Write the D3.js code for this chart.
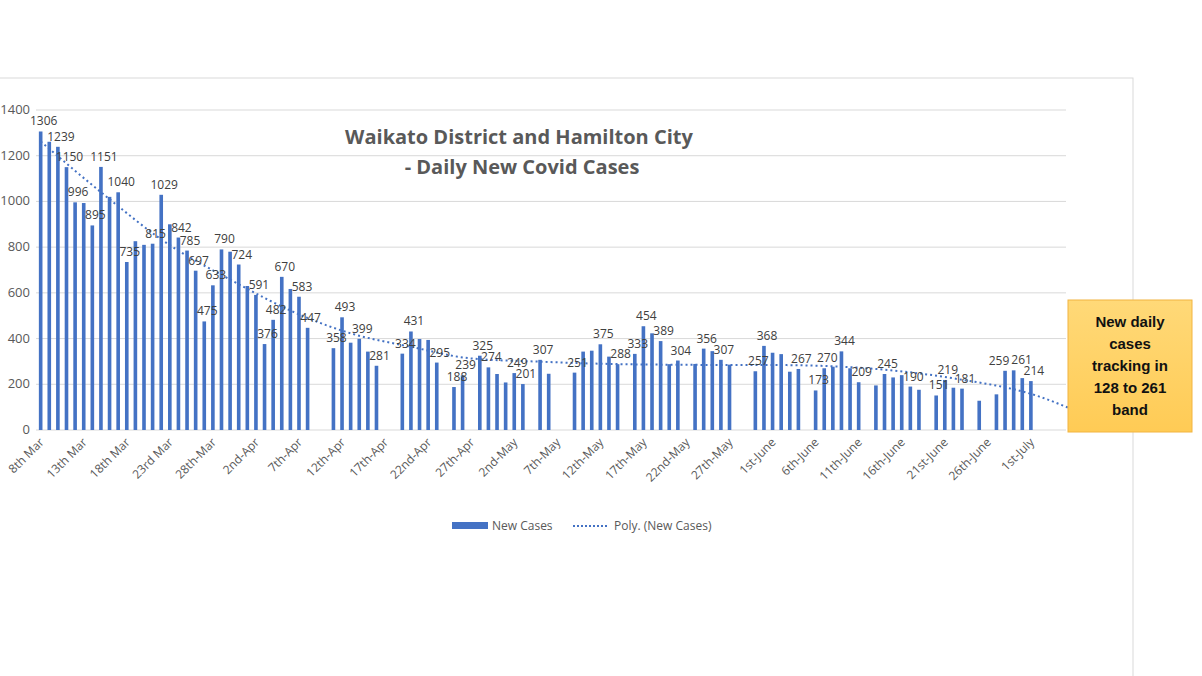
<!DOCTYPE html>
<html><head><meta charset="utf-8">
<script src="https://cdn.jsdelivr.net/npm/d3@7"></script>
<style>body{margin:0;background:#fff;font-family:"Open Sans","Liberation Sans",sans-serif}</style>
</head><body>
<svg id="chart" width="1202" height="676"></svg>
<script>
// daily new cases, one entry per day from 8 Mar (null = no report)
var cases = [
 1306,1261,1239,1150,996,993,895,1151,1020,1040,735,826,810,815,1029,900,842,785,697,475,633,790,780,724,
 630,591,376,482,670,617,583,447,null,null,358,493,382,399,343,281,null,null,334,431,398,394,295,null,188,239,null,325,274,245,
 208,249,201,null,307,246,null,null,251,343,347,375,321,288,null,333,454,423,389,288,304,null,289,356,345,307,286,null,null,257,368,
 338,332,255,267,null,173,270,277,344,270,209,null,195,245,230,240,190,176,null,151,219,185,181,null,128,null,156,259,261,227,
 214,null,null,null,null
];
// days whose value is printed on the chart
var labelled = [0,2,3,4,6,7,9,10,13,14,16,17,18,19,20,21,23,25,26,27,28,30,31,34,35,37,39,42,43,46,48,49,51,52,55,56,58,62,65,67,69,70,72,74,77,79,83,84,88,90,91,93,95,98,101,104,105,107,110,112,113,115];
var tickLabels = ["8th Mar","13th Mar","18th Mar","23rd Mar","28th-Mar","2nd-Apr","7th-Apr","12th-Apr","17th-Apr","22nd-Apr","27th-Apr","2nd-May","7th-May","12th-May","17th-May","22nd-May","27th-May","1st-June","6th-June","11th-June","16th-June","21st-June","26th-June","1st-July"];
// polynomial trendline: [day, value]
var trend = [[0,1262],[8,1010],[14,834],[22,658],[31,490],[36,423],[43,364],[50,313],[58,299],[66,289],[76,285],[86,284],[96,270],[106,226],[116,146],[119.5,95]];
var yTicks = [0,200,400,600,800,1000,1200,1400];

var svg = d3.select("#chart");
var grey = "#595959";

// outer chart frame
svg.append("rect").attr("x",-5).attr("y",78).attr("width",1138).attr("height",610)
	.attr("fill","none").attr("stroke","#d9d9d9");

var x = d3.scaleBand().domain(d3.range(cases.length)).range([38,1068]).paddingInner(0.58).paddingOuter(0.1);
var y = d3.scaleLinear().domain([0,1400]).range([430,110]);
var cx = function(i){ return x(Math.floor(i)) + x.bandwidth()/2 + (i%1)*x.step(); };

svg.append("g").selectAll("line").data(yTicks).enter().append("line")
	.attr("x1",36).attr("x2",1066).attr("y1",y).attr("y2",y)
	.attr("stroke","#d9d9d9");
svg.append("g").selectAll("text").data(yTicks).enter().append("text")
	.attr("x",30).attr("y",function(d){return y(d)+4;}).attr("text-anchor","end")
	.attr("font-size",13).attr("fill",grey).text(function(d){return d;});

var data = cases.map(function(v,i){return {i:i,v:v};}).filter(function(d){return d.v!==null;});
svg.append("g").selectAll("rect").data(data).enter().append("rect")
	.attr("x",function(d){return x(d.i);}).attr("width",x.bandwidth())
	.attr("y",function(d){return y(d.v);}).attr("height",function(d){return 430-y(d.v);})
	.attr("fill","#4472C4");

svg.append("path").datum(trend)
	.attr("d",d3.line().x(function(d){return cx(d[0]);}).y(function(d){return y(d[1]);}).curve(d3.curveMonotoneX))
	.attr("fill","none").attr("stroke","#4472C4").attr("stroke-width",2).attr("stroke-dasharray","2,3");

// nudge labels of neighbouring days apart when they sit at similar heights
var nudge = function(i,k){
	var p = labelled[k-1], n = labelled[k+1];
	if (n === i+1 && Math.abs(cases[n]-cases[i]) < 40) return -6;
	if (p === i-1 && Math.abs(cases[p]-cases[i]) < 40) return 8;
	return 3;
};
svg.append("g").selectAll("text").data(labelled).enter().append("text")
	.attr("x",function(i,k){return cx(i)+nudge(i,k);}).attr("y",function(i){return y(cases[i])-6;})
	.attr("text-anchor","middle").attr("font-size",12).attr("fill","#404040")
	.text(function(i){return cases[i];});

svg.append("g").selectAll("text").data(tickLabels).enter().append("text")
	.attr("transform",function(d,k){return "translate("+(cx(k*5)+4)+",443) rotate(-45)";})
	.attr("text-anchor","end").attr("font-size",12).attr("fill",grey).text(function(d){return d;});

svg.append("text").attr("x",519).attr("y",144).attr("text-anchor","middle")
	.attr("font-size",20).attr("font-weight","bold").attr("fill",grey).text("Waikato District and Hamilton City");
svg.append("text").attr("x",522).attr("y",174).attr("text-anchor","middle")
	.attr("font-size",20).attr("font-weight","bold").attr("fill",grey).text("- Daily New Covid Cases");

// legend
svg.append("rect").attr("x",452).attr("y",522).attr("width",36).attr("height",7).attr("fill","#4472C4");
svg.append("text").attr("x",492).attr("y",530).attr("font-size",12).attr("fill",grey).text("New Cases");
svg.append("line").attr("x1",573).attr("x2",609).attr("y1",526).attr("y2",526)
	.attr("stroke","#4472C4").attr("stroke-width",2).attr("stroke-dasharray","2,2");
svg.append("text").attr("x",614).attr("y",530).attr("font-size",12).attr("fill",grey).text("Poly. (New Cases)");

// callout
var grad = svg.append("defs").append("linearGradient").attr("id","g").attr("x1",0).attr("x2",0).attr("y1",0).attr("y2",1);
grad.append("stop").attr("offset","0").attr("stop-color","#FFD978");
grad.append("stop").attr("offset","1").attr("stop-color","#FFCB55");
svg.append("rect").attr("x",1068).attr("y",300).attr("width",124).attr("height",132)
	.attr("fill","url(#g)").attr("stroke","#F2B440");
var call = ["New daily","cases","tracking in","128 to 261","band"];
svg.append("g").selectAll("text").data(call).enter().append("text")
	.attr("x",1130).attr("y",function(d,k){return 327+k*22;}).attr("text-anchor","middle")
	.attr("font-size",15).attr("font-weight","bold").attr("fill","#111")
	.attr("font-family","Liberation Sans, Arial, sans-serif").text(function(d){return d;});
</script>
</body></html>
